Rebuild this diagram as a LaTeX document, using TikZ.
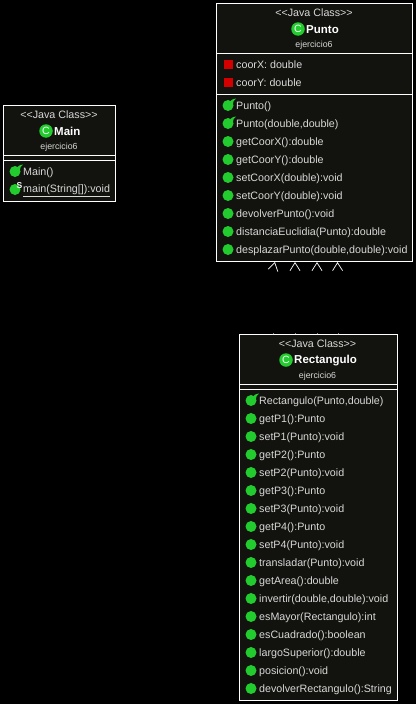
\documentclass[tikz,border=0pt]{standalone}
\usepackage{fontspec}
\setmainfont{Liberation Sans}
\usetikzlibrary{arrows.meta}
\definecolor{boxfill}{HTML}{12130E}
\definecolor{txt}{HTML}{D8D8D8}
\definecolor{icongreen}{HTML}{22CC2E}
\definecolor{iconred}{HTML}{D40000}
\tikzset{
  x=1pt,y=-1pt,
  umlbox/.style={draw=white,fill=boxfill,line width=1pt},
  divider/.style={draw=white,line width=1pt},
  stereo/.style={text=txt,font=\fontsize{10.7}{12}\selectfont,inner sep=0pt,anchor=center},
  classname/.style={text=white,font=\fontsize{11.5}{14}\selectfont\bfseries,inner sep=0pt,anchor=west},
  pkg/.style={text=txt,font=\fontsize{8.8}{10}\selectfont,inner sep=0pt,anchor=center},
  member/.style={text=txt,font=\fontsize{10.7}{12}\selectfont,inner sep=0pt,anchor=west},
  method/.style={circle,fill=icongreen,minimum size=11pt,inner sep=0pt},
  attr/.style={rectangle,fill=iconred,minimum size=9pt,inner sep=0pt},
  classicon/.style={circle,fill=icongreen,minimum size=13.5pt,inner sep=0pt,text=white,font=\fontsize{10.5}{10}\selectfont},
  hook/.style={fill=icongreen},
  statics/.style={text=white,font=\fontsize{8.5}{8}\selectfont\bfseries,inner sep=0pt},
  dep/.style={draw=black,line width=0.7pt},
  deptip/.style={-{Straight Barb[length=8pt,width=10pt,color=white,line width=0.7pt]}},
  stub/.style={draw=white!55!black,line width=0.7pt},
}
\newcommand{\ctor}[4]{% name, x, y, text
  \node[method] (#1i) at (#2,#3) {};
  \fill[hook,shift={(#2,#3)}] (1.5,-1) .. controls (1.8,-4) and (3.5,-6.8) .. (8,-7)
     .. controls (6,-5.5) and (4.8,-4) .. (4.8,-1) -- cycle;
  \node[member] (#1t) at (#2+8,#3+1) {#4};
}
\newcommand{\meth}[4]{%
  \node[method] (#1i) at (#2,#3) {};
  \node[member] (#1t) at (#2+8,#3+1) {#4};
}
\newcommand{\attrib}[4]{%
  \node[attr] (#1i) at (#2,#3) {};
  \node[member] (#1t) at (#2+8,#3+0.2) {#4};
}
\newcommand{\stereotext}{{<}{<}Java Class{>}{>}}
\begin{document}
\begin{tikzpicture}
\useasboundingbox[fill=black] (0,0) rectangle (416,704);
% Main
\node[umlbox,minimum width=112pt,minimum height=96pt,inner sep=0pt] (mainbox) at (59.5,153.5) {};
\node[stereo] (mainst) at (59,114.5) {\stereotext};
\node[classicon] (mainc) at (46,131) {C};
\node[classname] (mainn) at (54,131.5) {Main};
\node[pkg] (mainp) at (59,147) {ejercicio6};
\draw[divider] (mainbox.west |- 0,155.5) -- (mainbox.east |- 0,155.5);
\draw[divider] (mainbox.west |- 0,160.5) -- (mainbox.east |- 0,160.5);
\ctor{ma}{15}{171.5}{Main()}
\node[method] (mbi) at (15,189.5) {};
\node[statics] (mbs) at (19.5,185.5) {S};
\node[member] (mbt) at (23,190.5) {\underline{main(String[]):void}};
% Punto
\node[umlbox,minimum width=196pt,minimum height=258pt,inner sep=0pt] (puntobox) at (314.5,132.5) {};
\node[stereo] (pst) at (314,12.5) {\stereotext};
\node[classicon] (pc) at (298,29) {C};
\node[classname] (pn) at (306,29.5) {Punto};
\node[pkg] (pp) at (314,45.5) {ejercicio6};
\draw[divider] (puntobox.west |- 0,53.5) -- (puntobox.east |- 0,53.5);
\draw[divider] (puntobox.west |- 0,94.5) -- (puntobox.east |- 0,94.5);
\attrib{pa}{228}{64.5}{coorX: double}
\attrib{pb}{228}{82.5}{coorY: double}
\ctor{pm}{228}{105.5}{Punto()}
\ctor{pk}{228}{123.5}{Punto(double,double)}
\meth{pc1}{228}{141.5}{getCoorX():double}
\meth{pc2}{228}{159.5}{getCoorY():double}
\meth{pc3}{228}{177.5}{setCoorX(double):void}
\meth{pc4}{228}{195.5}{setCoorY(double):void}
\meth{pc5}{228}{213.5}{devolverPunto():void}
\meth{pc6}{228}{231.5}{distanciaEuclidia(Punto):double}
\meth{pc7}{228}{249.5}{desplazarPunto(double,double):void}
% Rectangulo
\node[umlbox,minimum width=158pt,minimum height=366pt,inner sep=0pt] (rectbox) at (318.5,517.5) {};
\node[stereo] (rst) at (317.5,343.5) {\stereotext};
\node[classicon] (rc) at (286,360) {C};
\node[classname] (rn) at (294,360.5) {Rectangulo};
\node[pkg] (rp) at (317.5,376.5) {ejercicio6};
\draw[divider] (rectbox.west |- 0,384.5) -- (rectbox.east |- 0,384.5);
\draw[divider] (rectbox.west |- 0,389.5) -- (rectbox.east |- 0,389.5);
\ctor{ra}{251}{400.5}{Rectangulo(Punto,double)}
\meth{r1}{251}{418.5}{getP1():Punto}
\meth{r2}{251}{436.5}{setP1(Punto):void}
\meth{r3}{251}{454.5}{getP2():Punto}
\meth{r4}{251}{472.5}{setP2(Punto):void}
\meth{r5}{251}{490.5}{getP3():Punto}
\meth{r6}{251}{508.5}{setP3(Punto):void}
\meth{r7}{251}{526.5}{getP4():Punto}
\meth{r8}{251}{544.5}{setP4(Punto):void}
\meth{r9}{251}{562.5}{transladar(Punto):void}
\meth{r10}{251}{580.5}{getArea():double}
\meth{r11}{251}{598.5}{invertir(double,double):void}
\meth{r12}{251}{616.5}{esMayor(Rectangulo):int}
\meth{r13}{251}{634.5}{esCuadrado():boolean}
\meth{r14}{251}{652.5}{largoSuperior():double}
\meth{r15}{251}{670.5}{posicion():void}
\meth{r16}{251}{688.5}{devolverRectangulo():String}
% connectors (black on black, only tips show)
\coordinate (s1) at (273,334);
\coordinate (s2) at (295,334);
\coordinate (s3) at (317,334);
\coordinate (s4) at (338,334);
\coordinate (b1) at (272.5,272);
\coordinate (t1) at (275,262);
\coordinate (t2) at (295,262);
\coordinate (t3) at (317,262);
\coordinate (t4) at (337.5,262);
\draw[dep] (s1) -- (b1);
\draw[dep,deptip] (b1) -- (t1);
\draw[dep,deptip] (s2) -- (t2);
\draw[dep,deptip] (s3) -- (t3);
\draw[dep,deptip] (s4) -- (t4);
\draw[stub] (s1) -- ++(0,-1);
\draw[stub] (s2) -- ++(0,-1);
\draw[stub] (s3) -- ++(0,-1);
\draw[stub] (s4) -- ++(0,-1);
\end{tikzpicture}
\end{document}
